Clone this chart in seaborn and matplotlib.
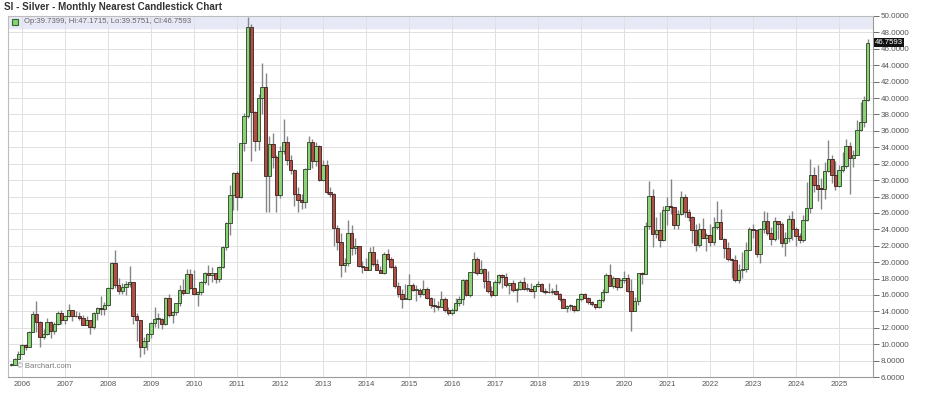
import numpy as np
import pandas as pd
import matplotlib
matplotlib.use("Agg")
import matplotlib.pyplot as plt
import matplotlib.transforms as mtransforms
import seaborn as sns

# ---------------- data (monthly candles, Oct 2005 .. Sep 2025) ----------------
first_month = 2005 + 9 / 12  # Oct 2005

opens = [
    7.45, 7.50, 8.25,
    8.83, 9.84, 9.63, 11.54, 13.65, 12.72, 10.86, 11.24, 12.67, 11.55, 12.46, 13.84,
    12.90, 13.46, 14.14, 13.38, 13.38, 13.23, 12.39, 12.89, 12.10, 13.83, 14.41, 14.27,
    14.76, 16.85, 19.93, 17.23, 16.50, 16.97, 17.38, 17.57, 13.49, 12.90, 9.69, 10.34,
    11.30, 12.54, 13.07, 13.07, 12.51, 15.59, 13.59, 13.96, 14.99, 16.60, 16.25, 18.60,
    16.85, 16.13, 16.39, 17.53, 18.68, 18.39, 18.66, 17.99, 19.40, 21.85, 24.73, 28.23,
    30.91, 27.93, 34.47, 37.87, 48.60, 38.29, 34.77, 40.05, 41.39, 30.45, 34.43, 32.83,
    28.18, 33.50, 34.63, 32.48, 31.27, 28.35, 27.62, 27.36, 31.40, 34.65, 32.31, 34.15,
    30.00, 31.86, 28.55, 28.31, 24.16, 22.41, 19.71, 19.90, 23.57, 21.73, 21.91, 19.58,
    19.39, 19.09, 21.20, 19.72, 19.04, 18.72, 21.04, 20.38, 19.45, 17.07, 16.16, 15.53,
    15.56, 17.21, 16.61, 16.64, 16.09, 16.78, 15.60, 14.79, 14.60, 14.53, 15.51, 14.11,
    13.82, 14.19, 14.99, 15.46, 17.85, 16.04, 18.78, 20.42, 18.68, 19.20, 17.70, 16.51,
    15.99, 17.54, 18.47, 18.21, 17.23, 17.45, 16.59, 16.71, 17.59, 16.69, 16.72, 16.49,
    17.14, 17.39, 16.43, 16.37, 16.32, 16.43, 16.12, 15.49, 14.47, 14.68, 14.69, 14.16,
    15.54, 16.07, 15.67, 15.10, 14.94, 14.58, 15.33, 16.37, 18.41, 17.04, 18.08, 16.92,
    17.85, 18.04, 16.48, 14.08, 15.21, 18.62, 18.61, 24.40, 28.01, 23.47, 23.91, 22.67,
    26.41, 26.90, 26.68, 24.47, 25.92, 27.98, 26.15, 25.54, 23.97, 22.07, 24.04, 22.96,
    23.35, 22.42, 24.34, 24.95, 22.86, 21.67, 20.35, 20.31, 17.83, 19.02, 19.17, 21.53,
    24.04, 23.94, 20.94, 24.09, 25.01, 23.57, 22.80, 24.99, 24.66, 22.31, 22.92, 25.28,
    24.09, 23.19, 22.70, 25.10, 26.62, 30.64, 29.43, 28.97, 28.88, 31.09, 32.59, 30.63,
    29.24, 31.27, 31.68, 34.13, 32.75, 33.06, 36.12, 37.05, 39.74,
]
highs = [
    7.75, 8.35, 9.20,
    9.98, 10.08, 11.60, 14.08, 15.21, 12.87, 11.82, 13.20, 12.80, 12.68, 14.10, 14.15,
    13.60, 14.95, 14.15, 14.10, 13.90, 13.60, 13.40, 12.95, 13.90, 14.55, 15.90, 15.10,
    16.95, 20.00, 21.44, 18.10, 17.45, 17.70, 19.50, 17.60, 13.80, 12.95, 10.90, 11.40,
    12.70, 14.50, 13.85, 13.15, 15.75, 16.10, 14.05, 15.05, 17.20, 18.00, 19.20, 19.20,
    19.00, 16.50, 17.70, 18.85, 19.60, 19.45, 18.70, 19.50, 22.00, 24.90, 29.35, 31.00,
    31.05, 34.50, 38.20, 49.82, 49.00, 38.40, 40.50, 44.30, 43.00, 35.40, 35.70, 33.00,
    34.10, 37.50, 35.40, 33.00, 31.40, 29.20, 28.30, 31.50, 35.35, 35.00, 34.60, 34.30,
    32.45, 32.50, 29.20, 28.40, 24.50, 23.50, 20.50, 25.10, 24.50, 23.00, 22.00, 20.10,
    20.50, 21.90, 22.00, 20.40, 19.50, 21.20, 21.60, 20.60, 19.60, 17.60, 16.70, 17.35,
    18.50, 17.40, 17.20, 16.80, 17.80, 17.00, 15.80, 15.60, 15.30, 16.50, 15.70, 14.50,
    14.40, 15.60, 15.90, 17.90, 17.90, 18.80, 21.20, 20.60, 20.20, 19.30, 18.90, 17.10,
    17.80, 18.60, 18.60, 18.70, 17.50, 17.80, 16.90, 17.80, 18.20, 17.50, 17.40, 17.20,
    17.70, 17.45, 16.80, 17.40, 16.80, 17.30, 16.20, 15.60, 14.80, 14.90, 14.80, 15.60,
    16.20, 16.20, 15.70, 15.30, 14.95, 15.50, 16.70, 18.70, 19.75, 18.30, 18.10, 18.10,
    18.90, 18.60, 17.90, 15.70, 18.66, 18.80, 24.90, 29.90, 28.90, 25.50, 26.10, 26.90,
    28.00, 30.10, 26.70, 26.40, 28.70, 28.30, 26.50, 25.60, 24.70, 24.80, 25.40, 23.50,
    24.70, 25.50, 27.50, 26.50, 22.90, 22.50, 20.50, 20.90, 19.80, 21.20, 22.40, 24.30,
    24.60, 24.00, 24.20, 26.20, 26.10, 24.30, 25.50, 25.00, 24.90, 23.70, 25.70, 26.20,
    24.30, 23.50, 25.80, 29.80, 32.52, 31.60, 31.80, 30.20, 32.20, 34.90, 33.00, 32.30,
    31.80, 33.40, 35.00, 34.60, 33.70, 37.30, 39.50, 40.20, 47.17,
]
lows = [
    7.35, 7.45, 8.20,
    8.75, 9.25, 9.60, 11.50, 11.45, 9.60, 10.60, 11.10, 10.80, 11.25, 12.35, 12.40,
    12.45, 13.35, 12.80, 13.30, 12.90, 12.30, 12.35, 11.20, 11.90, 13.00, 13.50, 13.60,
    14.70, 16.70, 16.90, 16.10, 16.10, 16.00, 17.00, 12.50, 10.40, 8.40, 8.80, 9.30,
    10.80, 12.10, 12.00, 11.80, 12.30, 13.30, 12.60, 13.60, 14.70, 16.00, 16.20, 16.70,
    16.00, 14.70, 15.95, 17.30, 17.20, 17.60, 17.40, 17.60, 19.30, 21.50, 23.30, 26.30,
    26.40, 27.80, 33.50, 37.60, 32.33, 33.60, 33.70, 38.10, 26.10, 26.10, 31.50, 26.15,
    27.80, 33.20, 31.80, 30.80, 26.80, 26.10, 26.50, 26.60, 31.30, 31.50, 31.70, 29.90,
    29.90, 28.35, 27.90, 22.00, 21.50, 18.20, 18.80, 19.50, 20.90, 21.00, 19.40, 18.70,
    19.00, 19.00, 19.50, 19.00, 18.70, 18.60, 20.30, 19.30, 16.80, 15.70, 14.40, 15.50,
    15.40, 16.50, 15.30, 15.70, 16.00, 15.50, 14.40, 13.90, 14.20, 14.50, 13.90, 13.60,
    13.60, 14.00, 14.60, 14.80, 15.90, 15.80, 18.70, 18.40, 18.60, 16.90, 16.20, 15.70,
    15.90, 17.30, 16.80, 17.00, 16.10, 16.40, 15.20, 16.60, 16.60, 16.50, 16.40, 15.60,
    17.00, 16.30, 16.10, 16.20, 16.10, 16.00, 15.30, 14.35, 13.95, 14.20, 13.90, 14.10,
    15.30, 15.60, 14.90, 14.70, 14.30, 14.40, 15.10, 16.20, 17.10, 16.80, 16.60, 16.80,
    17.50, 16.30, 11.64, 14.00, 14.80, 17.30, 18.50, 24.00, 21.80, 22.90, 21.90, 22.60,
    24.50, 25.90, 24.00, 24.00, 25.70, 25.50, 25.00, 22.30, 21.40, 21.90, 22.90, 21.40,
    22.00, 22.10, 24.00, 22.80, 20.50, 20.10, 18.10, 17.60, 17.50, 18.10, 18.80, 21.50,
    23.00, 20.60, 19.90, 23.60, 23.30, 22.10, 22.60, 22.80, 21.90, 20.70, 22.50, 22.70,
    22.00, 22.30, 22.40, 25.00, 26.00, 28.60, 27.50, 26.50, 27.70, 31.00, 29.70, 28.80,
    29.10, 31.00, 31.50, 28.30, 31.60, 33.00, 36.00, 36.50, 39.58,
]
closes = [
    7.50, 8.25, 8.83,
    9.84, 9.63, 11.54, 13.65, 12.72, 10.86, 11.24, 12.67, 11.55, 12.46, 13.84, 12.90,
    13.46, 14.14, 13.38, 13.38, 13.23, 12.39, 12.89, 12.10, 13.83, 14.41, 14.27, 14.76,
    16.85, 19.93, 17.23, 16.50, 16.97, 17.38, 17.57, 13.49, 12.90, 9.69, 10.34, 11.30,
    12.54, 13.07, 13.07, 12.51, 15.59, 13.59, 13.96, 14.99, 16.60, 16.25, 18.60, 16.85,
    16.13, 16.39, 17.53, 18.68, 18.39, 18.66, 17.99, 19.40, 21.85, 24.73, 28.23, 30.91,
    27.93, 34.47, 37.87, 48.60, 38.29, 34.77, 40.05, 41.39, 30.45, 34.43, 32.83, 28.18,
    33.50, 34.63, 32.48, 31.27, 28.35, 27.62, 27.36, 31.40, 34.65, 32.31, 34.15, 30.00,
    31.86, 28.55, 28.31, 24.16, 22.41, 19.71, 19.90, 23.57, 21.73, 21.91, 19.58, 19.39,
    19.09, 21.20, 19.72, 19.04, 18.72, 21.04, 20.38, 19.45, 17.07, 16.16, 15.53, 15.56,
    17.21, 16.61, 16.64, 16.09, 16.78, 15.60, 14.79, 14.60, 14.53, 15.51, 14.11, 13.82,
    14.19, 14.99, 15.46, 17.85, 16.04, 18.78, 20.42, 18.68, 19.20, 17.70, 16.51, 15.99,
    17.54, 18.47, 18.21, 17.23, 17.45, 16.59, 16.71, 17.59, 16.69, 16.72, 16.49, 17.14,
    17.39, 16.43, 16.37, 16.32, 16.43, 16.12, 15.49, 14.47, 14.68, 14.69, 14.16, 15.54,
    16.07, 15.67, 15.10, 14.94, 14.58, 15.33, 16.37, 18.41, 17.04, 18.08, 16.92, 17.85,
    18.04, 16.48, 14.08, 15.21, 18.62, 18.61, 24.40, 28.01, 23.47, 23.91, 22.67, 26.41,
    26.90, 26.68, 24.47, 25.92, 27.98, 26.15, 25.54, 23.97, 22.07, 24.04, 22.96, 23.35,
    22.42, 24.34, 24.95, 22.86, 21.67, 20.35, 20.31, 17.83, 19.02, 19.17, 21.53, 24.04,
    23.94, 20.94, 24.09, 25.01, 23.57, 22.80, 24.99, 24.66, 22.31, 22.92, 25.28, 24.09,
    23.19, 22.70, 25.10, 26.62, 30.64, 29.43, 28.97, 28.88, 31.09, 32.59, 30.63, 29.24,
    31.27, 31.68, 34.13, 32.75, 33.06, 36.12, 37.05, 39.74, 46.76,
]

title_text = "SI - Silver - Monthly Nearest Candlestick Chart"
header_text = "Op:39.7399, Hi:47.1715, Lo:39.5751, Cl:46.7593"
last_price = 46.7593
year_ticks = list(range(2006, 2026))
price_ticks = list(range(6, 51, 2))

# ---------------- figure ----------------
sns.set_theme(style="white")
plt.rcParams['font.family'] = ['Liberation Sans', 'DejaVu Sans']

df = pd.DataFrame({"open": opens, "high": highs, "low": lows, "close": closes})
df["t"] = first_month + np.arange(len(df)) / 12
df["up"] = df["close"] >= df["open"]
df["bottom"] = df[["open", "close"]].min(axis=1)
df["height"] = (df["close"] - df["open"]).abs().clip(lower=0.1)

W, H = 934, 394
fig = plt.figure(figsize=(W / 100, H / 100), dpi=100)
fig.patch.set_facecolor("white")
ax = fig.add_axes([8 / W, 17 / H, 865 / W, 361 / H])
ax.set_facecolor("white")

x0 = 2006 - 14 / 43
ax.set_xlim(x0, x0 + 865 / 43)
ax.set_ylim(6, 50)

# header band
ax.axhspan(48.55, 50, color="#e7e9f7", zorder=0)

# grid
ax.set_axisbelow(True)
ax.set_xticks(year_ticks)
ax.set_yticks(price_ticks)
ax.grid(True, color="#e0e0e0", linewidth=0.7)

# wicks
ax.vlines(df["t"], df["low"], df["high"], color="#858585", linewidth=1.0, zorder=2)
# bodies
green = "#8ad276"
red = "#b24f45"
up = df[df["up"]]
dn = df[~df["up"]]
ax.bar(up["t"], up["height"], bottom=up["bottom"], width=0.078,
       color=green, edgecolor="#2c3f28", linewidth=0.6, zorder=3)
ax.bar(dn["t"], dn["height"], bottom=dn["bottom"], width=0.078,
       color=red, edgecolor="#3a2020", linewidth=0.6, zorder=3)

# axes styling
ax.yaxis.tick_right()
ax.set_yticklabels([f"{v:.4f}" for v in price_ticks])
ax.set_xticklabels([str(y) for y in year_ticks])
ax.tick_params(axis="y", labelsize=5.8, colors="#555555", length=4, width=0.6,
               direction="out", pad=1.5, right=True, left=False)
ax.tick_params(axis="x", labelsize=5.6, colors="#555555", length=0, pad=3)
for side, sp in ax.spines.items():
    sp.set_color("#bdbdbd")
    sp.set_linewidth(0.8)
ax.spines["right"].set_color("#9a9a9a")
ax.spines["bottom"].set_color("#9a9a9a")
ax.set_xlabel("")
ax.set_ylabel("")

# header contents
bt = mtransforms.blended_transform_factory(ax.transAxes, ax.transData)
ax.plot([7 / 865], [49.28], marker="s", markersize=4, markerfacecolor=green,
        markeredgecolor="#2f6a2a", markeredgewidth=0.8, transform=bt, zorder=5)
ax.text(16 / 865, 49.28, header_text, transform=bt, fontsize=5.6,
        color="#666666", va="center", ha="left", zorder=5)

# last price marker on the right axis
ax.text(1.002, last_price, f"{last_price:.4f}", transform=bt, fontsize=5.6,
        color="white", va="center", ha="left", zorder=6, clip_on=False,
        bbox=dict(boxstyle="square,pad=0.15", facecolor="#111111", edgecolor="none"))

# watermark
ax.text(9 / 865, 7.25, "\u00a9 Barchart.com", transform=bt, fontsize=5.6,
        color="#7a7a7a", va="center", ha="left", zorder=5)

# title
fig.text(4 / W, 1 - 7 / H, title_text, fontsize=7.1, fontweight="bold",
         color="#333333", va="center", ha="left")

fig.savefig("out.png", dpi=100)
